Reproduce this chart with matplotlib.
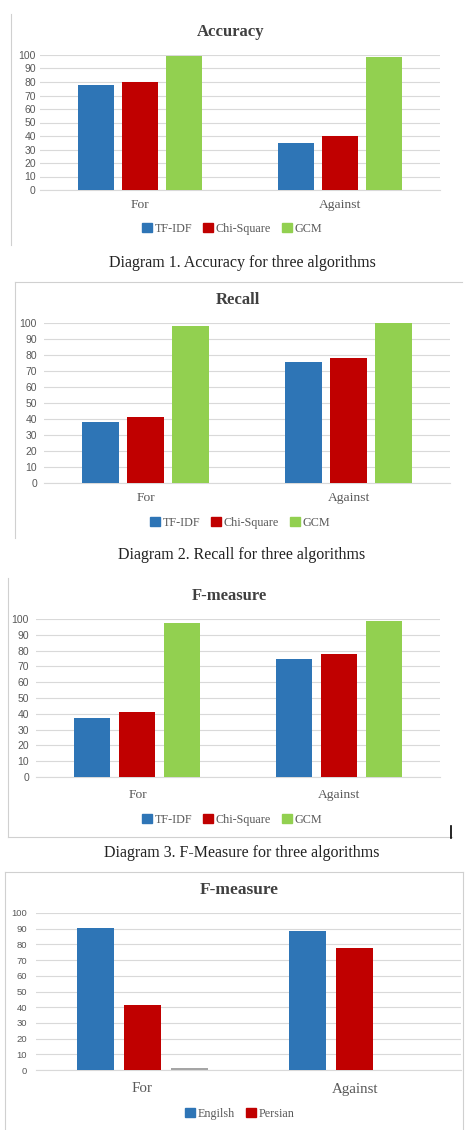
import matplotlib
matplotlib.use('Agg')
from matplotlib import pyplot as plt
from matplotlib.lines import Line2D
import numpy as np

# Data
categories = ['For', 'Against']
algorithms = ['TF-IDF', 'Chi-Square', 'GCM']

accuracy_tfidf = [77.5, 35]
accuracy_chi = [80, 40]
accuracy_gcm = [99.5, 98.5]

recall_tfidf = [38, 75.5]
recall_chi = [41.5, 78]
recall_gcm = [98, 100]

fmeasure_tfidf = [37.5, 75]
fmeasure_chi = [41.3, 78]
fmeasure_gcm = [97.3, 98.7]

languages = ['Engilsh', 'Persian']
lang_english = [90.5, 88.5]
lang_persian = [41.5, 78]
lang_other = [1.3, 0]

blue = '#2E75B6'
red = '#C00000'
green = '#92D050'
grey = '#A5A5A5'
text_grey = '#595959'
title_grey = '#404040'
grid_grey = '#D9D9D9'

W, H = 475, 1130
fig = plt.figure(figsize=(W / 100, H / 100), dpi=100)
fig.patch.set_facecolor('white')

serif = 'Liberation Serif'


def px_axes(x0, y0, x1, y1):
    # pixel box (top-left origin) -> figure axes
    return fig.add_axes([x0 / W, 1 - y1 / H, (x1 - x0) / W, (y1 - y0) / H])


def px_text(x, y, s, **kw):
    fig.text(x / W, 1 - y / H, s, ha='center', va='center', **kw)


def px_line(x0, y0, x1, y1, color='#D0D0D0', lw=0.8):
    fig.add_artist(Line2D([x0 / W, x1 / W], [1 - y0 / H, 1 - y1 / H],
                          color=color, lw=lw, transform=fig.transFigure))


def bar_panel(box, series, colors, labels, width, step, tsize=7.5, tpad=3):
    ax = px_axes(*box)
    x = np.arange(len(categories))
    n = len(series)
    for i, (vals, c) in enumerate(zip(series, colors)):
        off = (i - (n - 1) / 2) * step
        ax.bar(x + off, vals, width=width, color=c, label=labels[i], zorder=3)
    ax.set_xlim(-0.5, 1.5)
    ax.set_ylim(0, 100)
    ax.set_yticks(range(0, 101, 10))
    ax.yaxis.grid(True, color=grid_grey, lw=0.8, zorder=0)
    ax.set_xticks(x)
    ax.set_xticklabels([])
    for s in ['top', 'right', 'left']:
        ax.spines[s].set_visible(False)
    ax.spines['bottom'].set_color(grid_grey)
    ax.tick_params(axis='both', length=0)
    ax.tick_params(axis='y', labelsize=tsize, labelcolor=text_grey, pad=tpad)
    for lab in ax.get_yticklabels():
        lab.set_fontfamily('Liberation Sans')
    return ax


def legend_row(y, xc, labels, colors, fs=8.7):
    # legend drawn as a single centred row
    handles = [plt.Rectangle((0, 0), 1, 1, color=c) for c in colors]
    leg = fig.legend(handles, labels, loc='center', bbox_to_anchor=(xc / W, 1 - y / H),
                     ncol=len(labels), frameon=False, handlelength=0.8, handleheight=0.8,
                     handletextpad=0.25, columnspacing=0.9,
                     prop={'family': serif, 'size': fs})
    for t in leg.get_texts():
        t.set_color(text_grey)


cap_kw = dict(fontsize=11.5, family=serif, color='#222222')
title_kw = dict(fontsize=12, fontweight='bold', family=serif, color=title_grey)
cat_kw = dict(fontsize=9.7, family=serif, color=text_grey)

# ---- Diagram 1: Accuracy ----
px_line(11, 14, 11, 245)
px_text(231, 32, 'Accuracy', **title_kw)
bar_panel((40, 55, 440, 190), [accuracy_tfidf, accuracy_chi, accuracy_gcm],
          [blue, red, green], algorithms, 0.18, 0.222)
px_text(140, 205, 'For', **cat_kw)
px_text(340, 205, 'Against', **cat_kw)
legend_row(229, 232, algorithms, [blue, red, green])
px_text(242, 263, 'Diagram 1. Accuracy for three algorithms', **cap_kw)

# ---- Diagram 2: Recall ----
px_line(15, 282, 462, 282)
px_line(15, 282, 15, 538)
px_text(238, 300, 'Recall', **title_kw)
bar_panel((44, 323, 450, 483), [recall_tfidf, recall_chi, recall_gcm],
          [blue, red, green], algorithms, 0.18, 0.222, tpad=5)
px_text(146, 498, 'For', **cat_kw)
px_text(349, 498, 'Against', **cat_kw)
legend_row(523, 240, algorithms, [blue, red, green])
px_text(242, 555, 'Diagram 2. Recall for three algorithms', **cap_kw)

# ---- Diagram 3: F-measure ----
px_line(8, 578, 8, 837)
px_line(8, 837, 452, 837)
px_line(451, 826, 451, 838, color='black', lw=1.2)
px_text(229, 596, 'F-measure', **title_kw)
bar_panel((36, 619, 440, 777), [fmeasure_tfidf, fmeasure_chi, fmeasure_gcm],
          [blue, red, green], algorithms, 0.18, 0.222, tpad=5)
px_text(138, 795, 'For', **cat_kw)
px_text(339, 795, 'Against', **cat_kw)
legend_row(820, 232, algorithms, [blue, red, green])
px_text(242, 853, 'Diagram 3. F-Measure for three algorithms', **cap_kw)

# ---- F-measure by language ----
px_line(5, 872, 463, 872)
px_line(5, 872, 5, 1130)
px_line(463, 872, 463, 1130)
px_text(239, 890, 'F-measure', **dict(title_kw, fontsize=12.5))
bar_panel((36, 913, 461, 1070), [lang_english, lang_persian, lang_other],
          [blue, red, grey], languages + [''], 0.174, 0.221, tsize=6.8, tpad=6.5)
px_text(142, 1089, 'For', **dict(cat_kw, fontsize=10.8))
px_text(355, 1089, 'Against', **dict(cat_kw, fontsize=10.8))
legend_row(1114, 240, languages, [blue, red], fs=8.7)

fig.savefig('out.png', dpi=100, facecolor='white')
